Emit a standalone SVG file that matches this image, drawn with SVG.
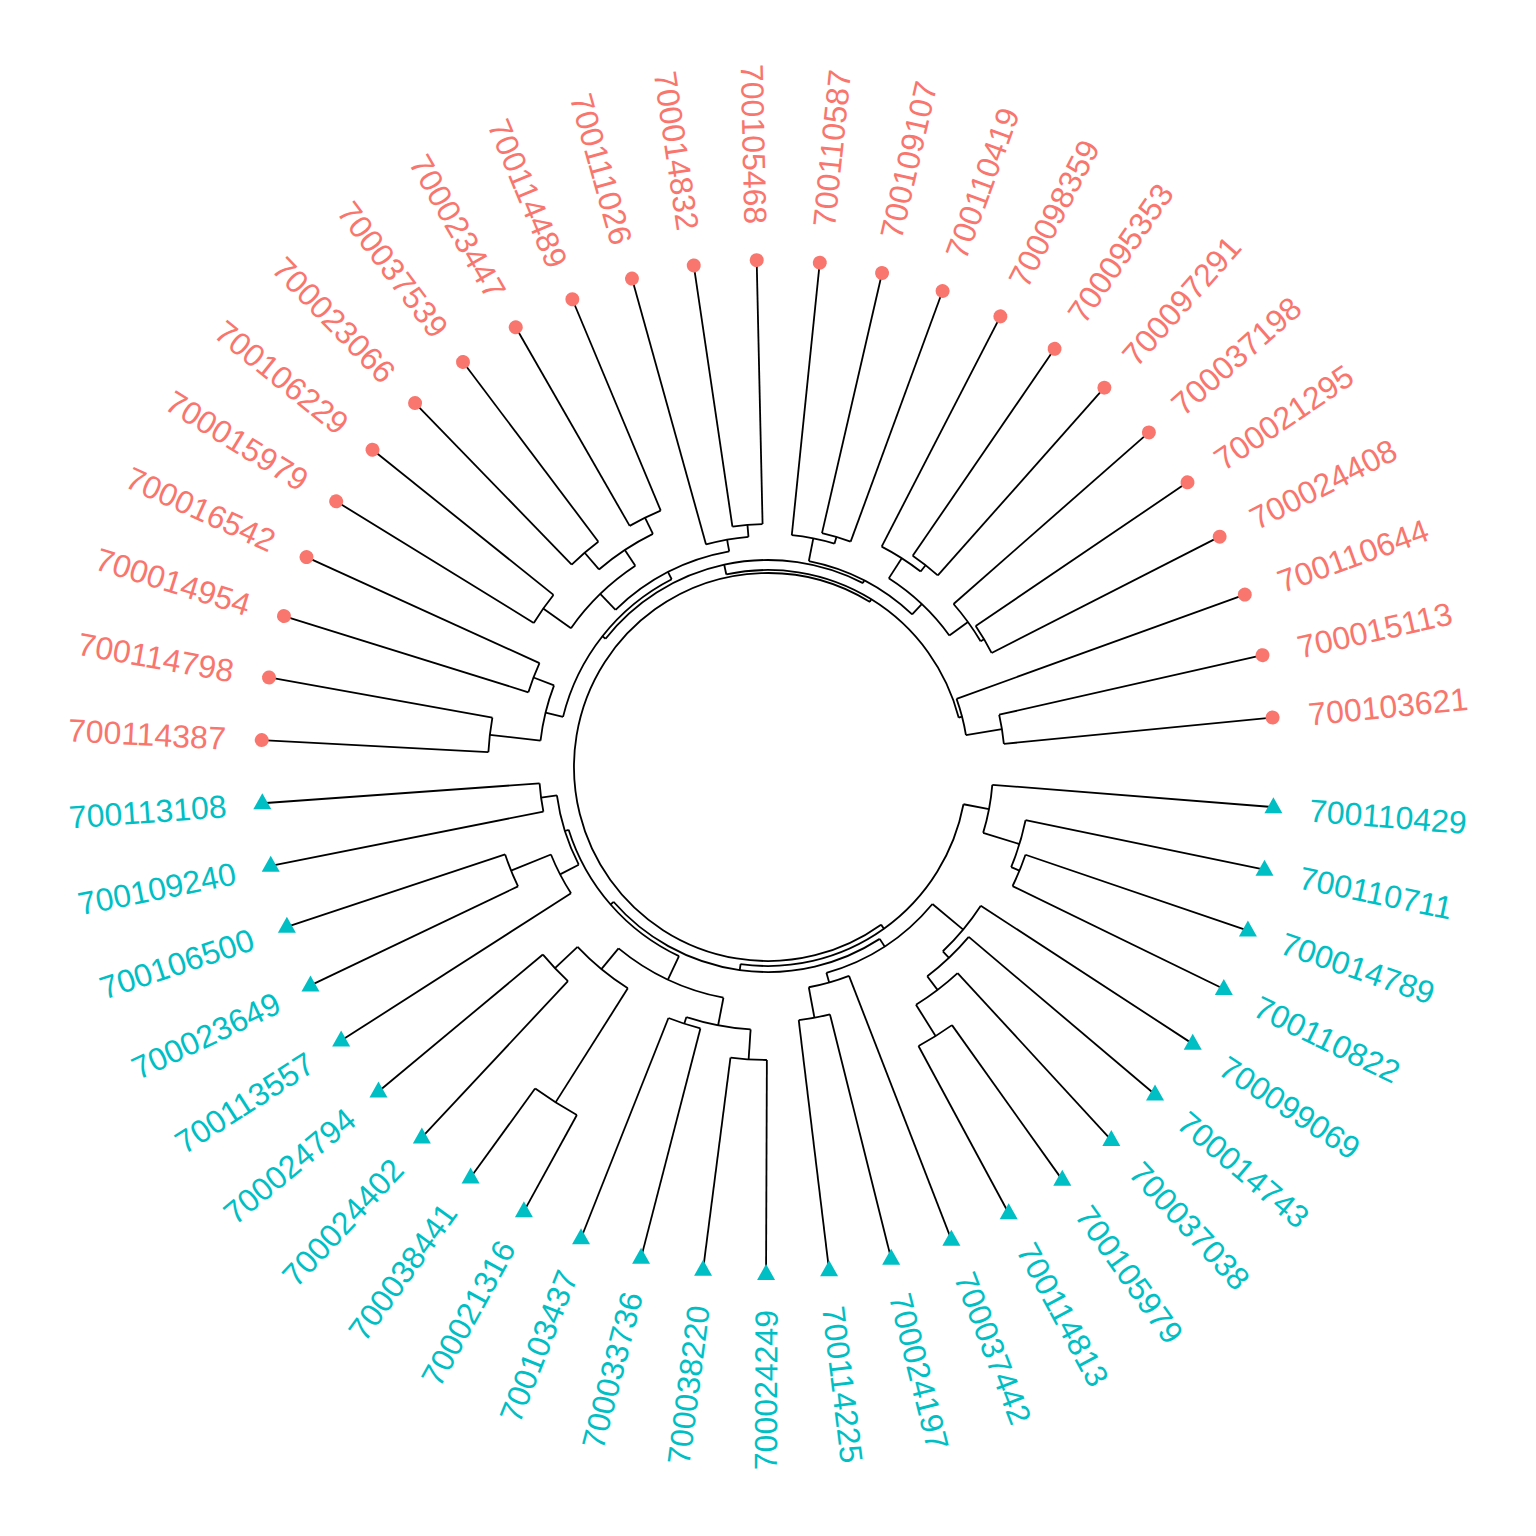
<svg xmlns="http://www.w3.org/2000/svg" xmlns:xlink="http://www.w3.org/1999/xlink" width="1536" height="1536" viewBox="0 0 1536 1536">
<style>
.e line,.e circle{stroke:#000;stroke-width:1.8;fill:none}
.r{fill:#F8766D}
.c{fill:#00BFC4}
text{font-family:"Liberation Sans",Arial,Helvetica,sans-serif;font-size:32px}
</style>
<defs>
<path id="tri" d="M0,-10 L9,6 L-9,6 Z"/>
</defs>
<rect width="1536" height="1536" fill="#fff"/>
<g transform="translate(768 767)">
<g id="connectors" class="e">
<!-- tip branches -->
<line x1="237" x2="507" transform="rotate(-5.60)"/>
<line x1="237" x2="507" transform="rotate(-12.74)"/>
<line x1="200.5" x2="507" transform="rotate(-19.88)"/>
<line x1="251" x2="507" transform="rotate(-27.02)"/>
<line x1="251" x2="507" transform="rotate(-34.16)"/>
<line x1="247" x2="507" transform="rotate(-41.30)"/>
<line x1="256" x2="507" transform="rotate(-48.44)"/>
<line x1="256" x2="507" transform="rotate(-55.58)"/>
<line x1="248" x2="507" transform="rotate(-62.72)"/>
<line x1="240" x2="507" transform="rotate(-69.86)"/>
<line x1="240" x2="507" transform="rotate(-77.00)"/>
<line x1="233" x2="507" transform="rotate(-84.14)"/>
<line x1="243" x2="507" transform="rotate(-91.28)"/>
<line x1="243" x2="507" transform="rotate(-98.42)"/>
<line x1="231" x2="507" transform="rotate(-105.56)"/>
<line x1="278" x2="507" transform="rotate(-112.70)"/>
<line x1="278" x2="507" transform="rotate(-119.84)"/>
<line x1="282" x2="507" transform="rotate(-126.98)"/>
<line x1="282" x2="507" transform="rotate(-134.12)"/>
<line x1="275" x2="507" transform="rotate(-141.26)"/>
<line x1="275" x2="507" transform="rotate(-148.40)"/>
<line x1="251" x2="507" transform="rotate(-155.54)"/>
<line x1="251" x2="507" transform="rotate(-162.68)"/>
<line x1="280" x2="507" transform="rotate(-169.82)"/>
<line x1="280" x2="507" transform="rotate(-176.96)"/>
<line x1="229" x2="507" transform="rotate(-184.10)"/>
<line x1="229" x2="507" transform="rotate(-191.24)"/>
<line x1="277" x2="507" transform="rotate(-198.38)"/>
<line x1="277" x2="507" transform="rotate(-205.52)"/>
<line x1="234" x2="507" transform="rotate(-212.66)"/>
<line x1="293" x2="507" transform="rotate(-219.80)"/>
<line x1="293" x2="507" transform="rotate(-226.94)"/>
<line x1="397" x2="507" transform="rotate(-234.08)"/>
<line x1="397" x2="507" transform="rotate(-241.22)"/>
<line x1="270" x2="507" transform="rotate(-248.36)"/>
<line x1="270" x2="507" transform="rotate(-255.50)"/>
<line x1="293" x2="507" transform="rotate(-262.64)"/>
<line x1="293" x2="507" transform="rotate(-269.78)"/>
<line x1="255" x2="507" transform="rotate(-276.92)"/>
<line x1="255" x2="507" transform="rotate(-284.06)"/>
<line x1="224" x2="507" transform="rotate(-291.20)"/>
<line x1="317" x2="507" transform="rotate(-298.34)"/>
<line x1="317" x2="507" transform="rotate(-305.48)"/>
<line x1="280" x2="507" transform="rotate(-312.62)"/>
<line x1="263" x2="507" transform="rotate(-319.76)"/>
<line x1="254" x2="507" transform="rotate(-326.90)"/>
<line x1="272" x2="507" transform="rotate(-334.04)"/>
<line x1="272" x2="507" transform="rotate(-341.18)"/>
<line x1="263" x2="507" transform="rotate(-348.32)"/>
<line x1="225" x2="507" transform="rotate(-355.46)"/>
<!-- red clade arcs -->
<circle r="237" stroke-dasharray="29.53 3000" transform="rotate(-12.74)"/>
<circle r="200.5" stroke-dasharray="37.48 3000" transform="rotate(-19.88)"/>
<circle r="251" stroke-dasharray="31.28 3000" transform="rotate(-34.16)"/>
<circle r="247" stroke-dasharray="46.17 3000" transform="rotate(-41.30)"/>
<circle r="256" stroke-dasharray="31.90 3000" transform="rotate(-55.58)"/>
<circle r="248" stroke-dasharray="46.36 3000" transform="rotate(-62.72)"/>
<circle r="224" stroke-dasharray="83.74 3000" transform="rotate(-57.37)"/>
<circle r="240" stroke-dasharray="29.91 3000" transform="rotate(-77.00)"/>
<circle r="233" stroke-dasharray="43.55 3000" transform="rotate(-84.14)"/>
<circle r="210" stroke-dasharray="117.76 3000" transform="rotate(-78.785)"/>
<circle r="243" stroke-dasharray="30.28 3000" transform="rotate(-98.42)"/>
<circle r="231" stroke-dasharray="43.18 3000" transform="rotate(-105.56)"/>
<circle r="278" stroke-dasharray="34.64 3000" transform="rotate(-119.84)"/>
<circle r="282" stroke-dasharray="35.14 3000" transform="rotate(-134.12)"/>
<circle r="260" stroke-dasharray="64.80 3000" transform="rotate(-130.55)"/>
<circle r="275" stroke-dasharray="34.27 3000" transform="rotate(-148.40)"/>
<circle r="241" stroke-dasharray="90.10 3000" transform="rotate(-144.83)"/>
<circle r="219" stroke-dasharray="129.63 3000" transform="rotate(-134.12)"/>
<circle r="251" stroke-dasharray="31.28 3000" transform="rotate(-162.68)"/>
<circle r="280" stroke-dasharray="34.89 3000" transform="rotate(-176.96)"/>
<circle r="229" stroke-dasharray="57.08 3000" transform="rotate(-173.39)"/>
<circle r="211" stroke-dasharray="180.77 3000" transform="rotate(-166.25)"/>
<circle r="207" stroke-dasharray="285.34 3000" transform="rotate(-141.70)"/>
<circle r="197" stroke-dasharray="301.50 3000" transform="rotate(-102.213)"/>
<!-- cyan clade arcs -->
<circle r="229" stroke-dasharray="28.54 3000" transform="rotate(-191.24)"/>
<circle r="277" stroke-dasharray="34.52 3000" transform="rotate(-205.52)"/>
<circle r="234" stroke-dasharray="43.74 3000" transform="rotate(-212.66)"/>
<circle r="213" stroke-dasharray="72.99 3000" transform="rotate(-207.305)"/>
<circle r="293" stroke-dasharray="36.51 3000" transform="rotate(-226.94)"/>
<circle r="397" stroke-dasharray="49.47 3000" transform="rotate(-241.22)"/>
<circle r="262" stroke-dasharray="65.30 3000" transform="rotate(-237.65)"/>
<circle r="270" stroke-dasharray="33.65 3000" transform="rotate(-255.50)"/>
<circle r="293" stroke-dasharray="36.51 3000" transform="rotate(-269.78)"/>
<circle r="263" stroke-dasharray="65.55 3000" transform="rotate(-266.21)"/>
<circle r="235" stroke-dasharray="117.14 3000" transform="rotate(-259.07)"/>
<circle r="209" stroke-dasharray="172.55 3000" transform="rotate(-244.79)"/>
<circle r="255" stroke-dasharray="31.78 3000" transform="rotate(-284.06)"/>
<circle r="224" stroke-dasharray="41.87 3000" transform="rotate(-291.20)"/>
<circle r="317" stroke-dasharray="39.50 3000" transform="rotate(-305.48)"/>
<circle r="280" stroke-dasharray="52.34 3000" transform="rotate(-312.62)"/>
<circle r="263" stroke-dasharray="57.36 3000" transform="rotate(-319.76)"/>
<circle r="254" stroke-dasharray="59.45 3000" transform="rotate(-326.90)"/>
<circle r="214" stroke-dasharray="128.35 3000" transform="rotate(-320.21)"/>
<circle r="205" stroke-dasharray="292.98 3000" transform="rotate(-303.026)"/>
<circle r="272" stroke-dasharray="33.90 3000" transform="rotate(-341.18)"/>
<circle r="263" stroke-dasharray="49.16 3000" transform="rotate(-348.32)"/>
<circle r="225" stroke-dasharray="49.07 3000" transform="rotate(-355.46)"/>
<circle r="199" stroke-dasharray="302.63 3000" transform="rotate(-349.2125)"/>
<!-- root arc -->
<circle r="194" stroke-dasharray="837.27 3000" transform="rotate(-305.647)"/>
<!-- internal radial edges: red -->
<line x1="200.5" x2="237" transform="rotate(-9.17)"/>
<line x1="197" x2="200.5" transform="rotate(-14.525)"/>
<line x1="247" x2="251" transform="rotate(-30.59)"/>
<line x1="224" x2="247" transform="rotate(-35.945)"/>
<line x1="248" x2="256" transform="rotate(-52.01)"/>
<line x1="224" x2="248" transform="rotate(-57.365)"/>
<line x1="210" x2="224" transform="rotate(-46.655)"/>
<line x1="233" x2="240" transform="rotate(-73.43)"/>
<line x1="210" x2="233" transform="rotate(-78.785)"/>
<line x1="207" x2="210" transform="rotate(-62.72)"/>
<line x1="231" x2="243" transform="rotate(-94.85)"/>
<line x1="219" x2="231" transform="rotate(-100.205)"/>
<line x1="260" x2="278" transform="rotate(-116.27)"/>
<line x1="260" x2="282" transform="rotate(-130.55)"/>
<line x1="241" x2="260" transform="rotate(-123.41)"/>
<line x1="241" x2="275" transform="rotate(-144.83)"/>
<line x1="219" x2="241" transform="rotate(-134.12)"/>
<line x1="211" x2="219" transform="rotate(-117.1625)"/>
<line x1="229" x2="251" transform="rotate(-159.11)"/>
<line x1="229" x2="280" transform="rotate(-173.39)"/>
<line x1="211" x2="229" transform="rotate(-166.25)"/>
<line x1="207" x2="211" transform="rotate(-141.70)"/>
<line x1="197" x2="207" transform="rotate(-102.213)"/>
<line x1="194" x2="197" transform="rotate(-58.369)"/>
<!-- internal radial edges: cyan -->
<line x1="213" x2="229" transform="rotate(-187.67)"/>
<line x1="234" x2="277" transform="rotate(-201.95)"/>
<line x1="213" x2="234" transform="rotate(-207.305)"/>
<line x1="209" x2="213" transform="rotate(-197.4875)"/>
<line x1="262" x2="293" transform="rotate(-223.37)"/>
<line x1="262" x2="397" transform="rotate(-237.65)"/>
<line x1="235" x2="262" transform="rotate(-230.51)"/>
<line x1="263" x2="270" transform="rotate(-251.93)"/>
<line x1="263" x2="293" transform="rotate(-266.21)"/>
<line x1="235" x2="263" transform="rotate(-259.07)"/>
<line x1="209" x2="235" transform="rotate(-244.79)"/>
<line x1="205" x2="209" transform="rotate(-221.14)"/>
<line x1="224" x2="255" transform="rotate(-280.49)"/>
<line x1="214" x2="224" transform="rotate(-285.845)"/>
<line x1="280" x2="317" transform="rotate(-301.91)"/>
<line x1="263" x2="280" transform="rotate(-307.265)"/>
<line x1="254" x2="263" transform="rotate(-313.4925)"/>
<line x1="214" x2="254" transform="rotate(-320.206)"/>
<line x1="205" x2="214" transform="rotate(-303.026)"/>
<line x1="199" x2="205" transform="rotate(-262.08)"/>
<line x1="263" x2="272" transform="rotate(-337.61)"/>
<line x1="225" x2="263" transform="rotate(-342.965)"/>
<line x1="199" x2="225" transform="rotate(-349.2125)"/>
<line x1="194" x2="199" transform="rotate(-305.647)"/>
</g>
<g id="tip-700103621"><circle class="r" cx="507" r="7" transform="rotate(-5.60)"/><text class="r" x="543" dy="0.36em" transform="rotate(-5.60)">700103621</text></g>
<g id="tip-700015113"><circle class="r" cx="507" r="7" transform="rotate(-12.74)"/><text class="r" x="543" dy="0.36em" transform="rotate(-12.74)">700015113</text></g>
<g id="tip-700110644"><circle class="r" cx="507" r="7" transform="rotate(-19.88)"/><text class="r" x="543" dy="0.36em" transform="rotate(-19.88)">700110644</text></g>
<g id="tip-700024408"><circle class="r" cx="507" r="7" transform="rotate(-27.02)"/><text class="r" x="543" dy="0.36em" transform="rotate(-27.02)">700024408</text></g>
<g id="tip-700021295"><circle class="r" cx="507" r="7" transform="rotate(-34.16)"/><text class="r" x="543" dy="0.36em" transform="rotate(-34.16)">700021295</text></g>
<g id="tip-700037198"><circle class="r" cx="507" r="7" transform="rotate(-41.30)"/><text class="r" x="543" dy="0.36em" transform="rotate(-41.30)">700037198</text></g>
<g id="tip-700097291"><circle class="r" cx="507" r="7" transform="rotate(-48.44)"/><text class="r" x="543" dy="0.36em" transform="rotate(-48.44)">700097291</text></g>
<g id="tip-700095353"><circle class="r" cx="507" r="7" transform="rotate(-55.58)"/><text class="r" x="543" dy="0.36em" transform="rotate(-55.58)">700095353</text></g>
<g id="tip-700098359"><circle class="r" cx="507" r="7" transform="rotate(-62.72)"/><text class="r" x="543" dy="0.36em" transform="rotate(-62.72)">700098359</text></g>
<g id="tip-700110419"><circle class="r" cx="507" r="7" transform="rotate(-69.86)"/><text class="r" x="543" dy="0.36em" transform="rotate(-69.86)">700110419</text></g>
<g id="tip-700109107"><circle class="r" cx="507" r="7" transform="rotate(-77.00)"/><text class="r" x="543" dy="0.36em" transform="rotate(-77.00)">700109107</text></g>
<g id="tip-700110587"><circle class="r" cx="507" r="7" transform="rotate(-84.14)"/><text class="r" x="543" dy="0.36em" transform="rotate(-84.14)">700110587</text></g>
<g id="tip-700105468"><circle class="r" cx="507" r="7" transform="rotate(-91.28)"/><text class="r" x="-543" dy="0.36em" text-anchor="end" transform="rotate(88.72)">700105468</text></g>
<g id="tip-700014832"><circle class="r" cx="507" r="7" transform="rotate(-98.42)"/><text class="r" x="-543" dy="0.36em" text-anchor="end" transform="rotate(81.58)">700014832</text></g>
<g id="tip-700111026"><circle class="r" cx="507" r="7" transform="rotate(-105.56)"/><text class="r" x="-543" dy="0.36em" text-anchor="end" transform="rotate(74.44)">700111026</text></g>
<g id="tip-700114489"><circle class="r" cx="507" r="7" transform="rotate(-112.70)"/><text class="r" x="-543" dy="0.36em" text-anchor="end" transform="rotate(67.30)">700114489</text></g>
<g id="tip-700023447"><circle class="r" cx="507" r="7" transform="rotate(-119.84)"/><text class="r" x="-543" dy="0.36em" text-anchor="end" transform="rotate(60.16)">700023447</text></g>
<g id="tip-700037539"><circle class="r" cx="507" r="7" transform="rotate(-126.98)"/><text class="r" x="-543" dy="0.36em" text-anchor="end" transform="rotate(53.02)">700037539</text></g>
<g id="tip-700023066"><circle class="r" cx="507" r="7" transform="rotate(-134.12)"/><text class="r" x="-543" dy="0.36em" text-anchor="end" transform="rotate(45.88)">700023066</text></g>
<g id="tip-700106229"><circle class="r" cx="507" r="7" transform="rotate(-141.26)"/><text class="r" x="-543" dy="0.36em" text-anchor="end" transform="rotate(38.74)">700106229</text></g>
<g id="tip-700015979"><circle class="r" cx="507" r="7" transform="rotate(-148.40)"/><text class="r" x="-543" dy="0.36em" text-anchor="end" transform="rotate(31.60)">700015979</text></g>
<g id="tip-700016542"><circle class="r" cx="507" r="7" transform="rotate(-155.54)"/><text class="r" x="-543" dy="0.36em" text-anchor="end" transform="rotate(24.46)">700016542</text></g>
<g id="tip-700014954"><circle class="r" cx="507" r="7" transform="rotate(-162.68)"/><text class="r" x="-543" dy="0.36em" text-anchor="end" transform="rotate(17.32)">700014954</text></g>
<g id="tip-700114798"><circle class="r" cx="507" r="7" transform="rotate(-169.82)"/><text class="r" x="-543" dy="0.36em" text-anchor="end" transform="rotate(10.18)">700114798</text></g>
<g id="tip-700114387"><circle class="r" cx="507" r="7" transform="rotate(-176.96)"/><text class="r" x="-543" dy="0.36em" text-anchor="end" transform="rotate(3.04)">700114387</text></g>
<g id="tip-700113108"><use href="#tri" class="c" transform="rotate(-184.10) translate(507 0) rotate(184.10)"/><text class="c" x="-543" dy="0.36em" text-anchor="end" transform="rotate(-4.10)">700113108</text></g>
<g id="tip-700109240"><use href="#tri" class="c" transform="rotate(-191.24) translate(507 0) rotate(191.24)"/><text class="c" x="-543" dy="0.36em" text-anchor="end" transform="rotate(-11.24)">700109240</text></g>
<g id="tip-700106500"><use href="#tri" class="c" transform="rotate(-198.38) translate(507 0) rotate(198.38)"/><text class="c" x="-543" dy="0.36em" text-anchor="end" transform="rotate(-18.38)">700106500</text></g>
<g id="tip-700023649"><use href="#tri" class="c" transform="rotate(-205.52) translate(507 0) rotate(205.52)"/><text class="c" x="-543" dy="0.36em" text-anchor="end" transform="rotate(-25.52)">700023649</text></g>
<g id="tip-700113557"><use href="#tri" class="c" transform="rotate(-212.66) translate(507 0) rotate(212.66)"/><text class="c" x="-543" dy="0.36em" text-anchor="end" transform="rotate(-32.66)">700113557</text></g>
<g id="tip-700024794"><use href="#tri" class="c" transform="rotate(-219.80) translate(507 0) rotate(219.80)"/><text class="c" x="-543" dy="0.36em" text-anchor="end" transform="rotate(-39.80)">700024794</text></g>
<g id="tip-700024402"><use href="#tri" class="c" transform="rotate(-226.94) translate(507 0) rotate(226.94)"/><text class="c" x="-543" dy="0.36em" text-anchor="end" transform="rotate(-46.94)">700024402</text></g>
<g id="tip-700038441"><use href="#tri" class="c" transform="rotate(-234.08) translate(507 0) rotate(234.08)"/><text class="c" x="-543" dy="0.36em" text-anchor="end" transform="rotate(-54.08)">700038441</text></g>
<g id="tip-700021316"><use href="#tri" class="c" transform="rotate(-241.22) translate(507 0) rotate(241.22)"/><text class="c" x="-543" dy="0.36em" text-anchor="end" transform="rotate(-61.22)">700021316</text></g>
<g id="tip-700103437"><use href="#tri" class="c" transform="rotate(-248.36) translate(507 0) rotate(248.36)"/><text class="c" x="-543" dy="0.36em" text-anchor="end" transform="rotate(-68.36)">700103437</text></g>
<g id="tip-700033736"><use href="#tri" class="c" transform="rotate(-255.50) translate(507 0) rotate(255.50)"/><text class="c" x="-543" dy="0.36em" text-anchor="end" transform="rotate(-75.50)">700033736</text></g>
<g id="tip-700038220"><use href="#tri" class="c" transform="rotate(-262.64) translate(507 0) rotate(262.64)"/><text class="c" x="-543" dy="0.36em" text-anchor="end" transform="rotate(-82.64)">700038220</text></g>
<g id="tip-700024249"><use href="#tri" class="c" transform="rotate(-269.78) translate(507 0) rotate(269.78)"/><text class="c" x="-543" dy="0.36em" text-anchor="end" transform="rotate(-89.78)">700024249</text></g>
<g id="tip-700114225"><use href="#tri" class="c" transform="rotate(-276.92) translate(507 0) rotate(276.92)"/><text class="c" x="543" dy="0.36em" transform="rotate(-276.92)">700114225</text></g>
<g id="tip-700024197"><use href="#tri" class="c" transform="rotate(-284.06) translate(507 0) rotate(284.06)"/><text class="c" x="543" dy="0.36em" transform="rotate(-284.06)">700024197</text></g>
<g id="tip-700037442"><use href="#tri" class="c" transform="rotate(-291.20) translate(507 0) rotate(291.20)"/><text class="c" x="543" dy="0.36em" transform="rotate(-291.20)">700037442</text></g>
<g id="tip-700114813"><use href="#tri" class="c" transform="rotate(-298.34) translate(507 0) rotate(298.34)"/><text class="c" x="543" dy="0.36em" transform="rotate(-298.34)">700114813</text></g>
<g id="tip-700105979"><use href="#tri" class="c" transform="rotate(-305.48) translate(507 0) rotate(305.48)"/><text class="c" x="543" dy="0.36em" transform="rotate(-305.48)">700105979</text></g>
<g id="tip-700037038"><use href="#tri" class="c" transform="rotate(-312.62) translate(507 0) rotate(312.62)"/><text class="c" x="543" dy="0.36em" transform="rotate(-312.62)">700037038</text></g>
<g id="tip-700014743"><use href="#tri" class="c" transform="rotate(-319.76) translate(507 0) rotate(319.76)"/><text class="c" x="543" dy="0.36em" transform="rotate(-319.76)">700014743</text></g>
<g id="tip-700099069"><use href="#tri" class="c" transform="rotate(-326.90) translate(507 0) rotate(326.90)"/><text class="c" x="543" dy="0.36em" transform="rotate(-326.90)">700099069</text></g>
<g id="tip-700110822"><use href="#tri" class="c" transform="rotate(-334.04) translate(507 0) rotate(334.04)"/><text class="c" x="543" dy="0.36em" transform="rotate(-334.04)">700110822</text></g>
<g id="tip-700014789"><use href="#tri" class="c" transform="rotate(-341.18) translate(507 0) rotate(341.18)"/><text class="c" x="543" dy="0.36em" transform="rotate(-341.18)">700014789</text></g>
<g id="tip-700110711"><use href="#tri" class="c" transform="rotate(-348.32) translate(507 0) rotate(348.32)"/><text class="c" x="543" dy="0.36em" transform="rotate(-348.32)">700110711</text></g>
<g id="tip-700110429"><use href="#tri" class="c" transform="rotate(-355.46) translate(507 0) rotate(355.46)"/><text class="c" x="543" dy="0.36em" transform="rotate(-355.46)">700110429</text></g>
</g>
</svg>
